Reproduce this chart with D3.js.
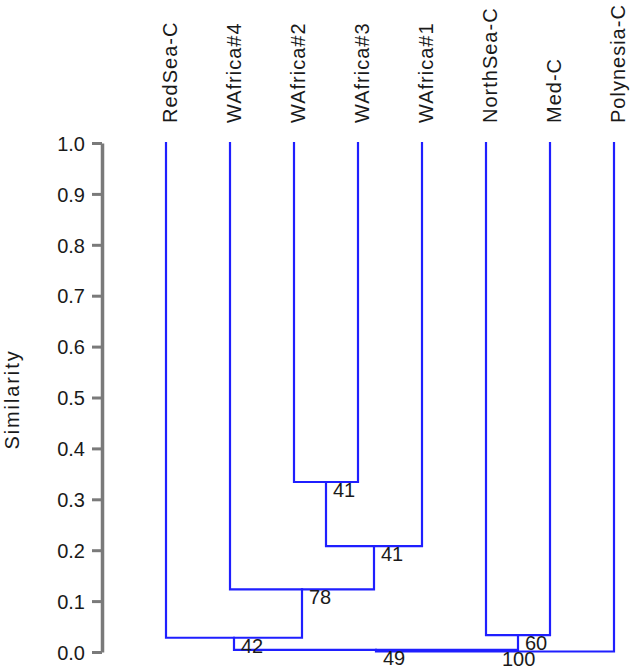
<!DOCTYPE html>
<html>
<head>
<meta charset="utf-8">
<script src="https://cdn.jsdelivr.net/npm/d3@7"></script>
<style>
  html, body { margin: 0; padding: 0; background: #fff; }
  svg text { font-family: "Liberation Sans", Arial, Helvetica, sans-serif; fill: #1a1a1a; }
</style>
</head>
<body>
<svg id="chart" width="632" height="671"></svg>
<script>
// ---- data ----
const leaves = ["RedSea-C", "WAfrica#4", "WAfrica#2", "WAfrica#3", "WAfrica#1", "NorthSea-C", "Med-C", "Polynesia-C"];
// hclust-style merge steps: negative = leaf (1-based), positive = earlier merge step (1-based)
const mergeLeft  = [-3, 1, -2, -1, -6, 4, 6];
const mergeRight = [-4, -5, 2, 3, -7, 5, -8];
const mergeHeights = [0.334, 0.208, 0.123, 0.028, 0.033, 0.004, 0.001];
const support = [41, 41, 78, 42, 60, 49, 100];
const yTicks = [0, 0.1, 0.2, 0.3, 0.4, 0.5, 0.6, 0.7, 0.8, 0.9, 1.0];
const yTitle = "Similarity";

// ---- layout ----
const svg = d3.select("#chart");
const x = d3.scalePoint().domain(leaves).range([166, 614]);
const y = d3.scaleLinear().domain([0, 1]).range([652, 143]);

// axis
const axis = d3.axisLeft(y).tickValues(yTicks).tickFormat(d3.format(".1f"))
  .tickSize(10).tickSizeOuter(0).tickPadding(7);
const gAxis = svg.append("g").attr("transform", "translate(102,0)").call(axis);
gAxis.select(".domain").attr("stroke", "#7a7a7a").attr("stroke-width", 3.5);
gAxis.selectAll(".tick line").attr("stroke", "#7a7a7a").attr("stroke-width", 3);
gAxis.selectAll(".tick text").attr("font-size", 20).attr("fill", "#1a1a1a")
  .attr("font-family", "'Liberation Sans', Arial, sans-serif").attr("dy", "0.36em");

svg.append("text")
  .attr("transform", `translate(19,${(y(0) + y(1)) / 2 + 2}) rotate(-90)`)
  .attr("text-anchor", "middle")
  .attr("font-size", 20)
  .attr("letter-spacing", "1.9px")
  .text(yTitle);

// leaf labels
svg.append("g").selectAll("text").data(leaves).join("text")
  .attr("transform", d => `translate(${x(d) + 11},123) rotate(-90)`)
  .attr("text-anchor", "start")
  .attr("font-size", 20)
  .attr("letter-spacing", "1px")
  .text(d => d);

// compute node positions
const nodes = []; // per merge: {x, h}
function childPos(c) {
  if (c < 0) { const name = leaves[-c - 1]; return { x: x(name), h: 1.0 }; }
  return nodes[c - 1];
}
const links = svg.append("g").attr("fill", "none").attr("stroke", "#1f1fff").attr("stroke-width", 2.2)
  .attr("stroke-linejoin", "miter").attr("stroke-linecap", "square");
mergeHeights.forEach((h, i) => {
  const a = childPos(mergeLeft[i]);
  const b = childPos(mergeRight[i]);
  const nx = (a.x + b.x) / 2;
  nodes.push({ x: nx, h: h });
  const p = d3.path();
  p.moveTo(a.x, y(a.h));
  p.lineTo(a.x, y(h));
  p.lineTo(b.x, y(h));
  p.lineTo(b.x, y(b.h));
  links.append("path").attr("d", p.toString());
});

// support labels
svg.append("g").selectAll("text").data(nodes).join("text")
  .attr("x", d => d.x + 7)
  .attr("y", d => y(d.h) + 15)
  .attr("font-size", 20)
  .text((d, i) => support[i]);
</script>
</body>
</html>
